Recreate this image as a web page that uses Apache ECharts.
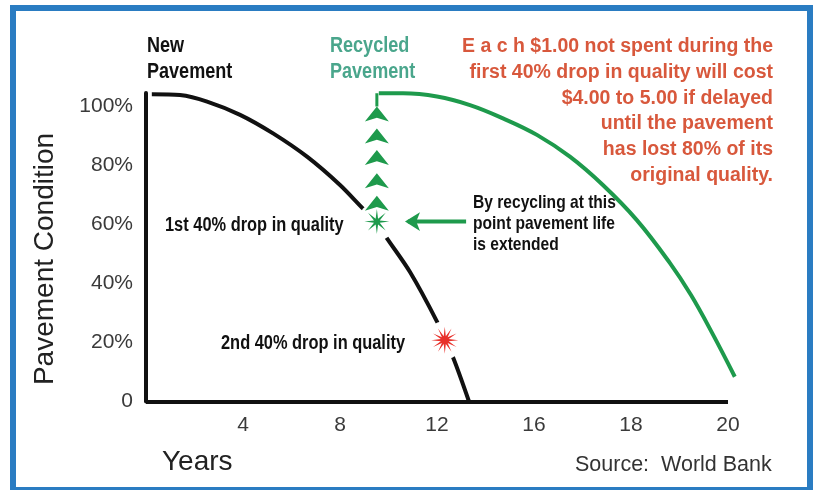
<!DOCTYPE html>
<html>
<head>
<meta charset="utf-8">
<script src="https://cdn.jsdelivr.net/npm/echarts@6/dist/echarts.min.js"></script>
<style>
  html, body { margin: 0; padding: 0; background: #fff; }
  #chart { width: 816px; height: 490px; }
</style>
</head>
<body>
<div id="chart"></div>
<script>
// x axis runs in tick positions (0..6), the printed years are uneven
var yearLabels = ['', '4', '8', '12', '16', '18', '20'];
var conditionTicks = [0, 20, 40, 60, 80, 100];

// new pavement curve
var newX = [0.06, 0.35, 0.63, 0.97, 1.31, 1.66, 2.00, 2.24, 2.38, 2.46, 2.72, 3.00, 3.08, 3.17, 3.33];
var newY = [104.2, 103.9, 101.7, 97.2, 90.9, 83.0, 73.4, 65.3, 61.0, 56.5, 44.0, 27.1, 20.8, 14.6, 0];

// recycled pavement curve
var recycledX = [2.40, 2.65, 3.00, 3.34, 3.68, 4.03, 4.37, 4.71, 5.06, 5.40, 5.62, 5.84, 6.07];
var recycledY = [104.5, 104.5, 103.4, 100.5, 96.0, 90.4, 83.0, 73.4, 61.5, 47.0, 36.0, 23.0, 8.4];

// upward chevrons at the recycling point
var chevronX = 2.38;
var chevronY = [100.0, 92.6, 85.3, 77.4, 69.8];

// markers
var firstDrop = [2.38, 61.0];
var secondDrop = [3.08, 20.8];
var pointerFrom = [3.30, 61.0];
var pointerTip = [2.67, 61.0];

var FONT = "'Liberation Sans', Arial, sans-serif";
var GREEN = '#1e9a4c';

function zip(xs, ys) {
    return xs.map(function (x, i) { return [x, ys[i]]; });
}

function starPath(points, inner) {
    var d = '';
    for (var i = 0; i < points * 2; i++) {
        var r = i % 2 ? inner : 1;
        var a = Math.PI * i / points - Math.PI / 2;
        d += (i ? 'L' : 'M') + (Math.cos(a) * r).toFixed(3) + ',' + (Math.sin(a) * r).toFixed(3);
    }
    return 'path://' + d + 'Z';
}

// y is the middle of the first line
function boldText(text, x, y, size, color, align, lineHeight, scale) {
    var lh = lineHeight || size;
    return {
        type: 'text',
        x: x,
        y: y - lh / 2,
        scaleX: scale || 0.82,
        z: 10,
        style: {
            text: text,
            x: 0,
            y: 0,
            font: 'bold ' + size + 'px ' + FONT,
            fill: color,
            textAlign: align || 'left',
            textVerticalAlign: 'top',
            lineHeight: lh
        }
    };
}

var chart = echarts.init(document.getElementById('chart'));

var option = {
    backgroundColor: '#ffffff',
    animation: false,
    grid: { left: 146, right: 81.2, top: 93, bottom: 88.5 },
    xAxis: {
        type: 'value',
        min: 0,
        max: 6.07,
        interval: 1,
        axisLine: { show: false },
        axisTick: { show: false },
        splitLine: { show: false },
        axisLabel: {
            margin: 13,
            fontSize: 21,
            color: '#3a3a3a',
            fontFamily: FONT,
            showMaxLabel: false,
            formatter: function (v) { return yearLabels[v] || ''; }
        }
    },
    yAxis: {
        type: 'value',
        min: 0,
        max: 104.6,
        interval: 20,
        axisLine: { show: true, lineStyle: { color: '#111', width: 4 } },
        axisTick: { show: false },
        splitLine: { show: false },
        axisLabel: {
            margin: 13,
            fontSize: 21,
            color: '#3a3a3a',
            fontFamily: FONT,
            formatter: function (v) {
                if (conditionTicks.indexOf(v) < 0) return '';
                return v === 0 ? '0' : v + '%';
            }
        }
    },
    series: [
        {
            name: 'New Pavement',
            type: 'line',
            data: zip(newX, newY),
            smooth: 0.3,
            symbol: 'none',
            lineStyle: { color: '#111', width: 4 },
            z: 2,
            // base line of the chart, ends at the last printed year
            markLine: {
                silent: true,
                symbol: 'none',
                label: { show: false },
                lineStyle: { color: '#111', width: 4, type: 'solid' },
                data: [[{ coord: [0, 0] }, { coord: [yearLabels.length - 1, 0] }]]
            }
        },
        {
            name: 'Recycled Pavement',
            type: 'line',
            data: zip(recycledX, recycledY),
            smooth: 0.4,
            symbol: 'none',
            lineStyle: { color: GREEN, width: 4 },
            z: 2
        },
        {
            name: 'stub',
            type: 'line',
            data: [[recycledX[0] - 0.02, chevronY[0]], [recycledX[0] - 0.02, recycledY[0]]],
            symbol: 'none',
            lineStyle: { color: GREEN, width: 3 },
            z: 2
        },
        {
            name: 'pointer',
            type: 'line',
            data: [pointerFrom, [pointerTip[0] + 0.03, pointerTip[1]]],
            symbol: 'none',
            lineStyle: { color: GREEN, width: 4 },
            z: 2
        },
        {
            name: 'pointerHead',
            type: 'scatter',
            data: [pointerTip],
            symbol: 'arrow',
            symbolSize: [14, 15],
            symbolRotate: 90,
            itemStyle: { color: GREEN, opacity: 1 },
            z: 4
        },
        {
            name: 'chevrons',
            type: 'scatter',
            data: chevronY.map(function (y) { return [chevronX, y]; }),
            symbol: 'arrow',
            symbolSize: [18, 15],
            itemStyle: { color: GREEN, opacity: 1 },
            z: 4
        },
        {
            name: 'halo',
            type: 'scatter',
            data: [firstDrop, secondDrop],
            symbol: 'circle',
            symbolSize: 38,
            itemStyle: { color: '#ffffff', opacity: 1 },
            z: 3
        },
        {
            name: 'recycle point',
            type: 'scatter',
            data: [firstDrop],
            symbol: starPath(8, 0.25),
            symbolSize: 25,
            itemStyle: { color: GREEN, opacity: 1 },
            z: 4
        },
        {
            name: '2nd drop',
            type: 'scatter',
            data: [secondDrop],
            symbol: starPath(12, 0.3),
            symbolSize: 27,
            itemStyle: { color: '#e8302a', opacity: 1 },
            z: 4
        }
    ],
    graphic: [
        {
            type: 'rect',
            shape: { x: 13, y: 8, width: 797, height: 482 },
            style: { fill: 'none', stroke: '#2a7cc2', lineWidth: 6 },
            z: 20
        },
        boldText('New\nPavement', 147, 46, 22, '#111', 'left', 26),
        boldText('Recycled\nPavement', 330, 46, 22, '#4aa68c', 'left', 26),
        boldText('E a c h $1.00 not spent during the\nfirst 40% drop in quality will cost\n$4.00 to 5.00 if delayed\nuntil the pavement\nhas lost 80% of its\noriginal quality.',
            773, 47, 19.5, '#d8583c', 'right', 25.7, 1),
        boldText('1st 40% drop in quality', 165, 225, 20, '#111'),
        boldText('By recycling at this\npoint pavement life\nis extended', 473, 203, 19, '#111', 'left', 21),
        boldText('2nd 40% drop in quality', 221, 343, 20, '#111'),
        {
            type: 'text',
            x: 45,
            y: 259,
            rotation: Math.PI / 2,
            style: {
                text: 'Pavement Condition',
                font: '28px ' + FONT,
                fill: '#222',
                textAlign: 'center',
                textVerticalAlign: 'middle'
            }
        },
        {
            type: 'text',
            x: 162,
            y: 462,
            style: {
                text: 'Years',
                font: '28px ' + FONT,
                fill: '#222',
                textAlign: 'left',
                textVerticalAlign: 'middle'
            }
        },
        {
            type: 'text',
            x: 575,
            y: 465,
            style: {
                text: 'Source:  World Bank',
                font: '21.5px ' + FONT,
                fill: '#333',
                textAlign: 'left',
                textVerticalAlign: 'middle'
            }
        }
    ]
};

chart.setOption(option);
</script>
</body>
</html>
